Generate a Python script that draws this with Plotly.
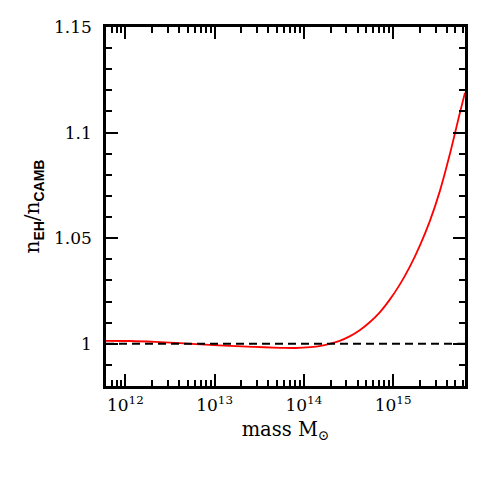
import plotly.graph_objects as go

# data (log10 of mass in solar masses, and the ratio n_EH / n_CAMB)
log_mass = [11.783, 12.052, 12.333, 12.614, 12.895, 13.175, 13.456, 13.737, 13.905, 14.074,
            14.187, 14.289, 14.401, 14.513, 14.626, 14.738, 14.851, 14.963, 15.075, 15.188,
            15.300, 15.412, 15.525, 15.637, 15.749, 15.806]
ratio = [1.0014, 1.0013, 1.0009, 1.0003, 0.9996, 0.9990, 0.9985, 0.9981, 0.9980, 0.9984,
         0.9990, 1.0000, 1.0014, 1.0035, 1.0064, 1.0102, 1.0149, 1.0209, 1.0280, 1.0365,
         1.0465, 1.0581, 1.0724, 1.0899, 1.1094, 1.1189]
mass = [10 ** v for v in log_mass]
x_tickvals = [1e12, 1e13, 1e14, 1e15]
x_ticktext = ["10<sup>12</sup>", "10<sup>13</sup>", "10<sup>14</sup>", "10<sup>15</sup>"]
y_tickvals = [1.0, 1.05, 1.1, 1.15]
y_ticktext = ["1", "1.05", "1.1", "1.15"]

FONT = "DejaVu Serif"

fig = go.Figure()
fig.add_trace(go.Scatter(x=mass, y=ratio, mode="lines",
                         line=dict(color="#ff0000", width=1.8, shape="spline", smoothing=1.0),
                         showlegend=False))
fig.add_hline(y=1.0, line=dict(color="black", width=1.8, dash="8px,5px"))

axis_common = dict(showline=True, linecolor="black", linewidth=2.5, mirror="allticks",
                   ticks="inside", tickcolor="black", tickwidth=2, ticklen=12,
                   showgrid=False, zeroline=False, automargin=False,
                   tickfont=dict(family=FONT, size=17, color="black"))

fig.update_xaxes(type="log", range=[11.783, 15.806], tickvals=x_tickvals, ticktext=x_ticktext,
                 minor=dict(ticks="inside", ticklen=6, tickwidth=2, tickcolor="black",
                            dtick="D1", showgrid=False),
                 ticklabelstandoff=2,
                 title=dict(text="mass M<sub>⊙</sub>", font=dict(family=FONT, size=19.5, color="black"),
                            standoff=9),
                 **axis_common)
fig.update_yaxes(range=[0.98, 1.15], tickvals=y_tickvals, ticktext=y_ticktext,
                 minor=dict(ticks="inside", ticklen=6, tickwidth=2, tickcolor="black",
                            dtick=0.01, tick0=0.98, showgrid=False),
                 ticklabelstandoff=8,
                 title=dict(text="n<sub><b><span style='font-family:Liberation Sans'>EH</span></b></sub>/n<sub><b><span style='font-family:Liberation Sans'>CAMB</span></b></sub>",
                            font=dict(family=FONT, size=20, color="black"), standoff=9),
                 **axis_common)

fig.update_layout(width=483, height=483, margin=dict(l=98, r=26, t=19, b=105),
                  plot_bgcolor="white", paper_bgcolor="white")
fig.write_html("out.html")
